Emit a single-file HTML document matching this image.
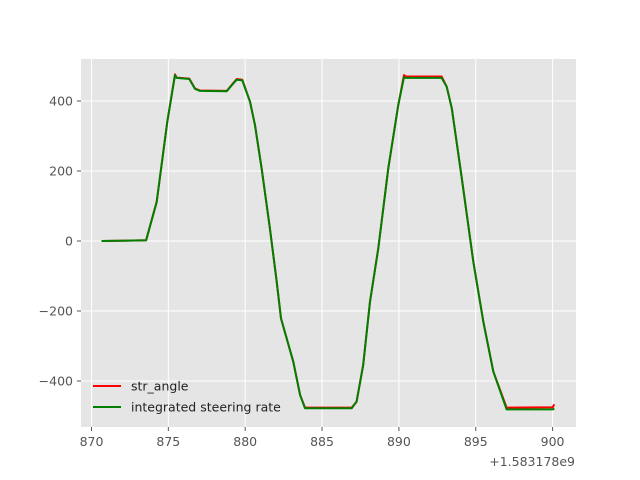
<!DOCTYPE html>
<html><head><meta charset="utf-8"><style>
body{margin:0;background:#fff;}
svg{display:block;font-family:"DejaVu Sans","Liberation Sans",sans-serif;}
</style></head><body>
<svg id="chart" width="640" height="480"></svg>
<script>
const times=[870.66,873.55,874.24,874.93,875.43,875.54,876.36,876.73,877.06,878.8,879.12,879.45,879.81,880.31,880.64,881.07,881.61,882.05,882.33,883.13,883.57,883.89,886.93,887.25,887.68,888.12,888.66,889.31,889.96,890.33,890.45,892.78,893.11,893.44,894.09,894.84,895.49,896.14,897.01,900.0,900.12];
const strAngle=[0,2,112,341,476,467,464,436,430,429,446,463,461,398,331,208,36,-116,-221,-345,-440,-476,-476,-459,-354,-173,-21,208,389,474,470,470,441,379,179,-59,-230,-373,-476,-475,-467];
const integratedRate=[0,2,112,341,474,466,463,435,429,428,445,461,459,398,331,208,36,-116,-221,-345,-440,-478,-478,-459,-354,-173,-21,208,389,468,466,466,441,379,179,-59,-230,-373,-481,-481,-479];
const xTicks=[870,875,880,885,890,895,900];
const yTicks=[-400,-200,0,200,400];
const NS="http://www.w3.org/2000/svg";
const svg=document.getElementById('chart');
const L=81,R=576,T=59,B=427;
const xs=t=>91.5+(t-870)*15.37;
const ys=v=>241-v*0.35;
function mk(tag,attrs,parent){const e=document.createElementNS(NS,tag);for(const k in attrs)e.setAttribute(k,attrs[k]);(parent||svg).appendChild(e);return e;}
const bg=mk('rect',{x:L,y:T,width:R-L,height:B-T,fill:'#e5e5e5'});


xTicks.forEach(t=>{
 const g=mk('line',{x1:xs(t),x2:xs(t),y1:T,y2:B,stroke:'#fff','stroke-width':1});
 
 
 const tk=mk('line',{x1:xs(t),x2:xs(t),y1:B,y2:B+4,stroke:'#555'});
 
 
 const tx=mk('text',{x:xs(t),y:B+19,'text-anchor':'middle','font-size':12.5,fill:'#555'});
 tx.textContent=t;
 
 
});
yTicks.forEach(v=>{
 const g=mk('line',{x1:L,x2:R,y1:ys(v),y2:ys(v),stroke:'#fff','stroke-width':1});
 
 
 const tk=mk('line',{x1:L-4,x2:L,y1:ys(v),y2:ys(v),stroke:'#555'});
 
 
 const tx=mk('text',{x:L-8,y:ys(v)+4.5,'text-anchor':'end','font-size':12.5,fill:'#555'});
 tx.textContent=String(v).replace('-','\u2212');
 
 
});
const off=mk('text',{x:575,y:466,'text-anchor':'end','font-size':12.5,fill:'#555'});
off.textContent='+1.583178e9';


function line(vals,color,name){
 const d=times.map((t,i)=>(i?'L':'M')+xs(t).toFixed(1)+','+ys(vals[i]).toFixed(1)).join(' ');
 const p=mk('path',{d:d,fill:'none',stroke:color,'stroke-width':2,'stroke-linejoin':'round'});
 
 
}
line(strAngle,'#ff0000','str-angle-line');
line(integratedRate,'#008000','integrated-steering-rate-line');
const leg=[['str_angle','#ff0000',386],['integrated steering rate','#008000',407]];
leg.forEach(([lab,c,y])=>{
 const l=mk('line',{x1:93,x2:121,y1:y,y2:y,stroke:c,'stroke-width':2});
 
 
 const tx=mk('text',{x:131,y:y+4.5,'font-size':12.5,fill:'#222'});
 tx.textContent=lab;
 
 
});
</script>
</body></html>
